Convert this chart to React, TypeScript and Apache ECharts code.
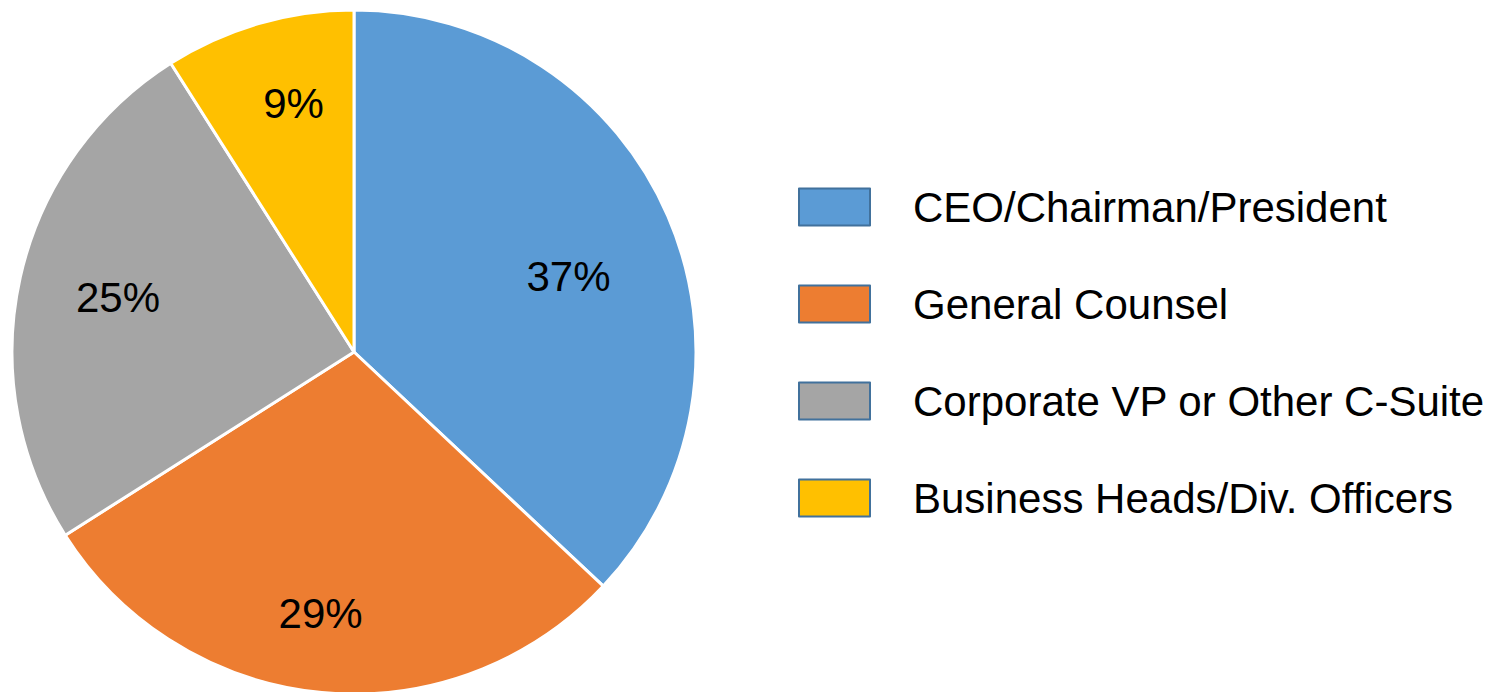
import React, { useEffect, useRef } from "react";
import * as echarts from "echarts";

const categories = [
  "CEO/Chairman/President",
  "General Counsel",
  "Corporate VP or Other C-Suite",
  "Business Heads/Div. Officers",
];
const values = [37, 29, 25, 9];
const colors = ["#5B9BD5", "#ED7D31", "#A5A5A5", "#FFC000"];

export default function App() {
  const ref = useRef<HTMLDivElement>(null);
  useEffect(() => {
    document.body.style.margin = "0";
    if (!ref.current) return;
    const chart = echarts.init(ref.current, undefined, { renderer: "svg" });
    const font = "'Liberation Sans', Arial, sans-serif";
    const labelOffsets = [
      [-14, 23],
      [-10, 14],
      [7, 0],
      [9, -9],
    ];
    chart.setOption({
      animation: false,
      backgroundColor: "#ffffff",
      legend: {
        data: categories,
        orient: "vertical",
        left: 798,
        top: 186,
        padding: 0,
        itemWidth: 71,
        itemHeight: 37,
        itemGap: 55,
        icon: "rect",
        selectedMode: false,
        itemStyle: { borderColor: "#41719C", borderWidth: 2 },
        textStyle: {
          fontSize: 42,
          lineHeight: 37,
          fontFamily: font,
          color: "#000000",
          padding: [0, 0, 0, 38],
        },
      },
      series: [
        {
          type: "pie",
          center: [354, 352],
          radius: [0, 342],
          startAngle: 90,
          clockwise: true,
          silent: true,
          label: { show: false },
          labelLine: { show: false },
          itemStyle: { borderColor: "#ffffff", borderWidth: 3 },
          data: categories.map((n, i) => ({
            name: n,
            value: values[i],
            itemStyle: { color: colors[i] },
          })),
        },
        {
          type: "pie",
          center: [354, 352],
          radius: [150, 342],
          startAngle: 90,
          clockwise: true,
          silent: true,
          itemStyle: { color: "rgba(0,0,0,0)" },
          label: {
            show: true,
            position: "inside",
            formatter: "{c}%",
            fontSize: 42,
            fontFamily: font,
            color: "#000000",
          },
          labelLine: { show: false },
          data: values.map((v, i) => ({
            name: "lbl" + i,
            value: v,
            label: { offset: labelOffsets[i] },
          })),
        },
      ],
    });
    return () => chart.dispose();
  }, []);
  return <div ref={ref} style={{ width: 1504, height: 692 }} />;
}
